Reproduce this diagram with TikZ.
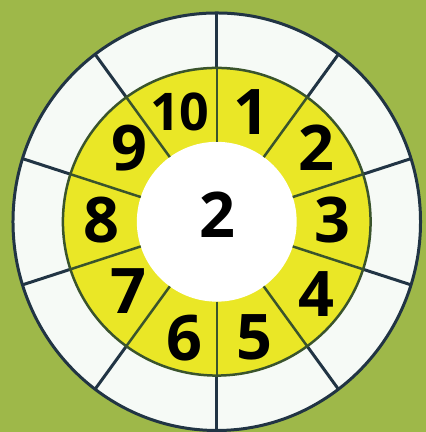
\documentclass[tikz,border=0pt]{standalone}
\usepackage{fontspec}
\newfontfamily\numfont{Open Sans}
\usetikzlibrary{calc}
\definecolor{bggreen}{RGB}{158,184,73}
\definecolor{ringwhite}{RGB}{246,250,246}
\definecolor{ringyellow}{RGB}{234,231,38}
\definecolor{linenavy}{RGB}{33,52,68}
\definecolor{lineolive}{RGB}{58,84,44}
\begin{document}
\begin{tikzpicture}[x=1pt,y=1pt,
  num/.style={font=\numfont\bfseries\fontsize{63}{63}\selectfont,inner sep=0pt}]
  % background
  \fill[bggreen] (0,0) rectangle (426,432);
  \coordinate (o) at (217,210);
  % rings
  \fill[ringwhite] (o) ellipse [x radius=204pt,y radius=209pt];
  \fill[ringyellow] (o) circle (154pt);
  \fill[white] (o) circle (80pt);
  \begin{scope}
    \clip (o) ellipse [x radius=204pt,y radius=209pt];
    \foreach \a in {90,54,...,-234}{
      \draw[lineolive,line width=2.5pt] ([shift={(\a:80)}]o) -- ([shift={(\a:154)}]o);
      \draw[linenavy,line width=3pt] ([shift={(\a:154)}]o) -- ([shift={(\a:215)}]o);}
  \end{scope}
  \draw[linenavy,line width=3pt] (o) ellipse [x radius=204pt,y radius=209pt];
  \draw[lineolive,line width=2.5pt] (o) circle (154pt);
  % numbers
  \foreach \n/\x/\y in {1/252/320,2/317/284,3/333/212,4/317/138,5/255/94,
                        6/185/94,7/129/141,8/102/212,9/130/284}
    \node[num] (n\n) at (\x,\y) {\n};
  \node[num,font=\numfont\bfseries\fontsize{52}{52}\selectfont] (n10) at (180,320) {10};
  \node[num] (mid) at (218,217) {2};
\end{tikzpicture}
\end{document}
